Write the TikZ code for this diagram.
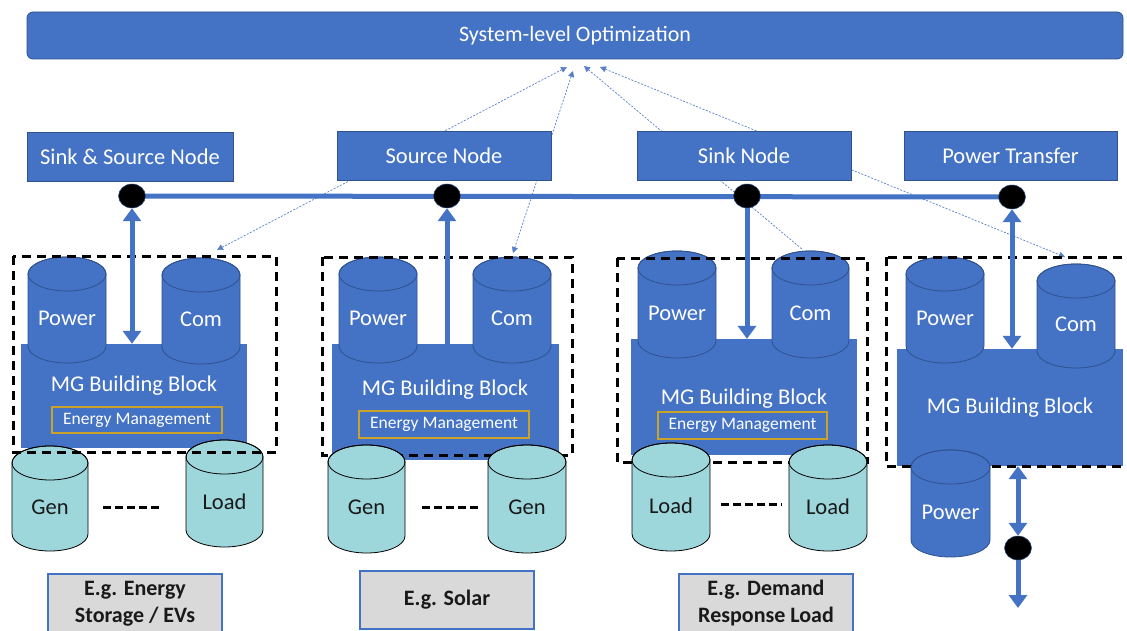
\documentclass[tikz,border=0pt]{standalone}
\usepackage{fontspec}
\setmainfont{Carlito}
\usetikzlibrary{arrows.meta,shapes.geometric}
\definecolor{mgblue}{HTML}{4472C4}
\definecolor{mgdark}{HTML}{2F528F}
\definecolor{cylteal}{HTML}{9DD7DC}
\definecolor{emgold}{HTML}{C9A227}
\definecolor{eggray}{HTML}{D9D9D9}
\tikzset{
  sysbox/.style={fill=mgblue, draw=mgdark, line width=0.8pt, rounded corners=6pt, text=white,
    font=\fontsize{22}{26}\selectfont, minimum width=1096pt, minimum height=47pt, inner sep=0pt},
  topbox/.style={fill=mgblue, draw=mgdark, line width=0.6pt, text=white,
    font=\fontsize{22.5}{27}\selectfont, minimum height=49pt, inner sep=0pt},
  mgrect/.style={fill=mgblue, draw=none, inner sep=0pt},
  mgtext/.style={text=white, font=\fontsize{22.5}{27}\selectfont, inner sep=0pt},
  embox/.style={draw=emgold, line width=1.2pt, text=white, font=\fontsize{17.5}{21}\selectfont,
    inner sep=0pt, minimum height=26pt},
  dbox/.style={draw=black, line width=3pt, dash pattern=on 9pt off 6pt},
  dconn/.style={draw=black, line width=3pt, dash pattern=on 7.5pt off 4.5pt},
  egbox/.style={fill=eggray, draw=mgblue, line width=2.5pt, inner sep=0pt},
  egtext/.style={font=\bfseries\fontsize{22}{27}\selectfont, align=center, text=black!90, inner sep=0pt},
  junc/.style={ellipse, fill=black, draw=mgdark, line width=0.5pt, minimum width=27pt,
    minimum height=24pt, inner sep=0pt},
  pw/.style={draw=mgblue, line width=5pt, >={Triangle[width=18pt,length=13pt]}},
  dotl/.style={draw=mgblue!90, line width=0.7pt, dash pattern=on 2pt off 1.5pt,
    >={Triangle[width=6pt,length=6pt]}},
  cylblue/.style={fill=mgblue, draw=mgdark, line width=0.8pt},
  cylteal/.style={fill=cylteal, draw=black, line width=0.8pt},
  cyltextblue/.style={text=white, font=\fontsize{22.5}{27}\selectfont, inner sep=0pt},
  cyltextteal/.style={text=black!90, font=\fontsize{22.5}{27}\selectfont, inner sep=0pt},
}
% #1 name, #2 left, #3 right, #4 top, #5 bottom, #6 blue/teal, #7 text
\newcommand{\mycyl}[7]{%
  \pgfmathsetmacro{\cyX}{(#2+#3)/2}%
  \pgfmathsetmacro{\cyR}{(#3-#2)/2}%
  \pgfmathsetmacro{\cyA}{-(#4)-17}%
  \pgfmathsetmacro{\cyB}{-(#5)+17}%
  \pgfmathsetmacro{\cyT}{-((#4)+17+(#5))/2}%
  \filldraw[cyl#6] (#2,\cyA) -- (#2,\cyB) arc[start angle=180,end angle=360,x radius=\cyR,y radius=17]
     -- (#3,\cyA) arc[start angle=0,end angle=180,x radius=\cyR,y radius=17] -- cycle;
  \draw[cyl#6, fill=none] (\cyX,\cyA) ellipse[x radius=\cyR, y radius=17];
  \node[cyltext#6] (#1) at (\cyX,\cyT) {#7};
}
\begin{document}
\begin{tikzpicture}[x=1pt,y=1pt]
\useasboundingbox (0,0) rectangle (1127,-631);
\fill[white] (0,0) rectangle (1127,-631);

% system-level optimization
\node[sysbox] (sys) at (575,-35.5) {System-level Optimization};

% dotted communication links
\coordinate (s1) at (567,-67);  \coordinate (e1) at (217,-250);
\coordinate (s2) at (573,-71);  \coordinate (e2) at (513,-253);
\coordinate (s3) at (584,-66);  \coordinate (e3) at (803,-250);
\coordinate (s4) at (600,-67);  \coordinate (e4) at (1065,-257);
\draw[dotl, <->] (s1) -- (e1);
\draw[dotl, <->] (s2) -- (e2);
\draw[dotl, <-] (s3) -- (e3);
\draw[dotl, <->] (s4) -- (e4);

% top nodes
\node[topbox, minimum width=206pt] (ssn) at (130,-156.5) {Sink \& Source Node};
\node[topbox, minimum width=214pt] (srcn) at (444,-155.5) {Source Node};
\node[topbox, minimum width=214pt] (sinkn) at (744,-155.5) {Sink Node};
\node[topbox, minimum width=213pt] (ptn) at (1010.5,-155.5) {Power Transfer};

% bus
\coordinate (c1) at (132,-196);
\coordinate (c2) at (447,-196);
\coordinate (c3) at (747,-196);
\coordinate (c4) at (1012,-197);
\draw[pw] (c1) -- (c4);

% ---------------- Block 1
\node[mgrect, minimum width=226pt, minimum height=104pt] (mg1) at (134,-396) {};
\mycyl{p1}{28}{106}{257}{363}{blue}{Power}
\mycyl{k1}{162}{240}{258}{364}{blue}{Com}
\node[mgtext] (mgt1) at (134,-386) {MG Building Block};
\node[embox, minimum width=170pt] (em1) at (137,-420) {Energy Management};
\mycyl{g1}{12}{88}{446}{551}{teal}{Gen}
\mycyl{l1}{186}{263}{440}{547}{teal}{Load}
\draw[dbox] (13,-256) rectangle (276,-452);
\draw[dconn] (103,-507) coordinate (dc1a) -- (163,-507) coordinate (dc1b);
\node[egbox, minimum width=174pt, minimum height=70pt] (eg1) at (135,-609) {};
\node[egtext] (egt1) at (135,-603.5) {E.g. Energy\\Storage / EVs};

% ---------------- Block 2
\node[mgrect, minimum width=227pt, minimum height=116pt] (mg2) at (445.5,-402) {};
\mycyl{p2}{339}{417}{257}{363}{blue}{Power}
\mycyl{k2}{473}{551}{257}{363}{blue}{Com}
\node[mgtext] (mgt2) at (445,-390) {MG Building Block};
\node[embox, minimum width=170pt, minimum height=27pt] (em2) at (444,-424.5) {Energy Management};
\draw[dbox] (322,-257) rectangle (572,-455);
\mycyl{g2}{328}{405}{445}{553}{teal}{Gen}
\mycyl{g3}{488}{566}{445}{553}{teal}{Gen}
\draw[dconn] (422,-507) coordinate (dc2a) -- (482,-507) coordinate (dc2b);
\node[egbox, minimum width=174pt, minimum height=58pt] (eg2) at (447,-600) {};
\node[egtext] (egt2) at (447,-600) {E.g. Solar};

% ---------------- Block 3
\node[mgrect, minimum width=226pt, minimum height=116pt] (mg3) at (744,-397) {};
\mycyl{p3}{638}{716}{251}{358}{blue}{Power}
\mycyl{k3}{772}{849}{251}{358}{blue}{Com}
\node[mgtext] (mgt3) at (744,-399) {MG Building Block};
\node[embox, minimum width=169pt, minimum height=27pt] (em3) at (742.5,-425.5) {Energy Management};
\draw[dbox] (617,-258) rectangle (867,-462);
\mycyl{l2}{632}{710}{443}{551}{teal}{Load}
\mycyl{l3}{789}{867}{445}{551}{teal}{Load}
\draw[dconn] (721,-504) coordinate (dc3a) -- (782,-504) coordinate (dc3b);
\node[egbox, minimum width=174pt, minimum height=70pt] (eg3) at (766,-609) {};
\node[egtext] (egt3) at (766,-603.5) {E.g. Demand\\Response Load};

% ---------------- Block 4
\node[mgrect, minimum width=226pt, minimum height=117pt] (mg4) at (1010,-407.5) {};
\mycyl{p4}{906}{984}{257}{363}{blue}{Power}
\mycyl{k4}{1037}{1115}{264}{368}{blue}{Com}
\node[mgtext] (mgt4) at (1010,-408) {MG Building Block};
\draw[dbox] (886,-257) rectangle (1140,-466);
\mycyl{p5}{911}{990}{450}{557}{blue}{Power}

% junctions
\node[junc] (j1) at (c1) {};
\node[junc] (j2) at (c2) {};
\node[junc] (j3) at (c3) {};
\node[junc] (j4) at (c4) {};
\node[junc] (j5) at (1018,-548) {};
\coordinate (out5) at (1018,-608);

% power arrows
\draw[pw, <->] (j1) -- (j1 |- mg1.north);
\draw[pw, ->] (j2 |- mg2.north) -- (j2);
\draw[pw, ->] (j3) -- (j3 |- mg3.north);
\draw[pw, <->] (j4) -- (j4 |- mg4.north);
\draw[pw, <->] (j5 |- mg4.south) -- (j5);
\draw[pw, ->] (j5) -- (out5);
\end{tikzpicture}
\end{document}
